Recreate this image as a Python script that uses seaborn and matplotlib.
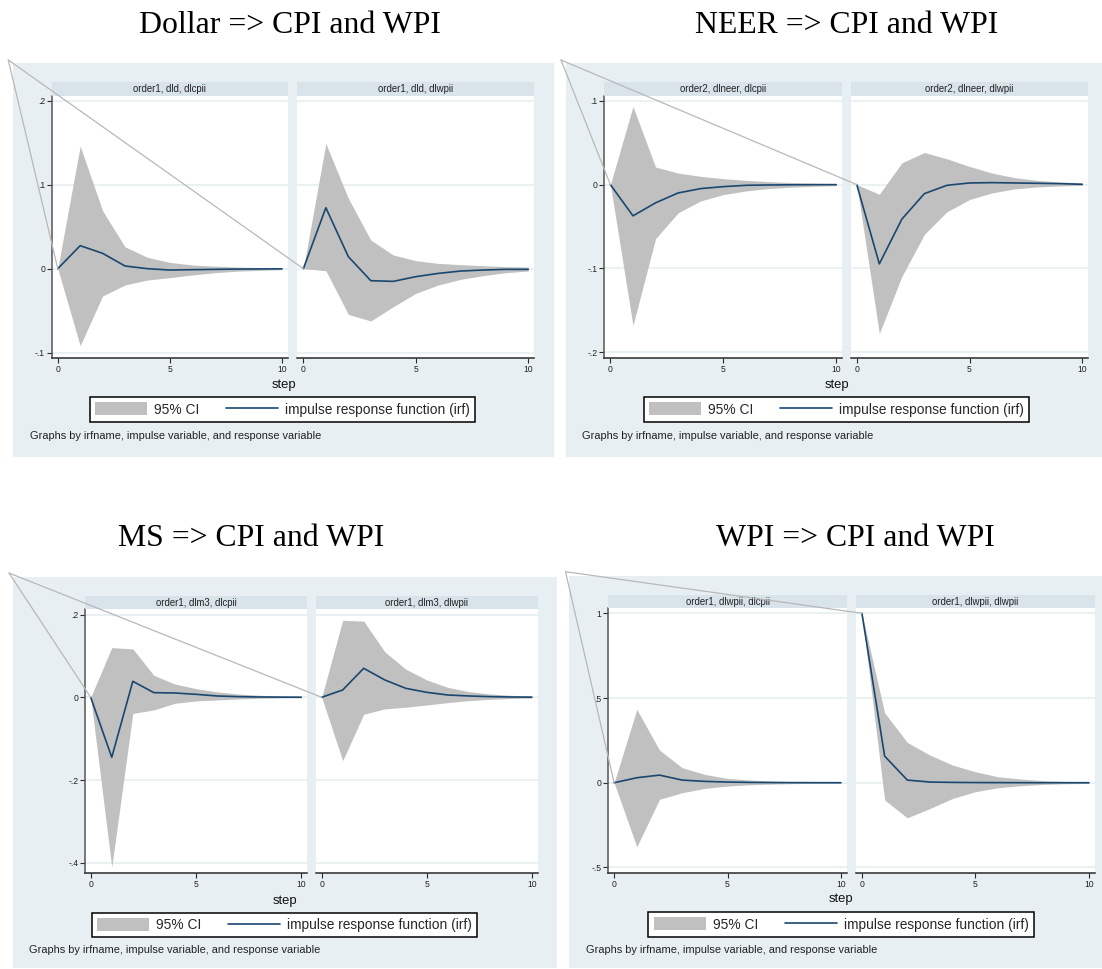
import matplotlib
matplotlib.use("Agg")
import matplotlib.pyplot as plt
from matplotlib.patches import Rectangle, Patch, ConnectionPatch
from matplotlib.lines import Line2D
from matplotlib.ticker import FuncFormatter
import seaborn as sns

# ---------------------------------------------------------------------------
# Impulse response estimates (step 0..10): irf, lower and upper 95% bounds
# ---------------------------------------------------------------------------
steps = list(range(11))

dollar_cpi_irf = [0, 0.0274, 0.0183, 0.0032, 0.0, -0.0016, -0.0012, -0.0008, -0.0005, -0.0003, -0.0002]
dollar_cpi_lo = [0, -0.0917, -0.0325, -0.0194, -0.0135, -0.0107, -0.0075, -0.0048, -0.003, -0.002, -0.0012]
dollar_cpi_hi = [0, 0.146, 0.069, 0.026, 0.0135, 0.0075, 0.0044, 0.003, 0.002, 0.0012, 0.0008]

dollar_wpi_irf = [0, 0.0726, 0.0143, -0.0143, -0.0151, -0.0095, -0.0056, -0.0028, -0.0016, -0.0008, -0.0008]
dollar_wpi_lo = [0, -0.0024, -0.0544, -0.0623, -0.0452, -0.0294, -0.0194, -0.0127, -0.0083, -0.0048, -0.0028]
dollar_wpi_hi = [0, 0.149, 0.0837, 0.034, 0.0163, 0.0095, 0.0063, 0.0048, 0.0035, 0.0025, 0.002]

neer_cpi_irf = [0, -0.0372, -0.0217, -0.0099, -0.0047, -0.0024, -0.0008, -0.0004, -0.0002, 0.0, 0.0]
neer_cpi_lo = [0, -0.168, -0.0644, -0.0336, -0.0194, -0.0119, -0.0075, -0.0047, -0.003, -0.002, -0.0012]
neer_cpi_hi = [0, 0.0933, 0.021, 0.0138, 0.0099, 0.0071, 0.0051, 0.0036, 0.0025, 0.0016, 0.001]

neer_wpi_irf = [0, -0.0945, -0.0411, -0.0107, -0.0008, 0.002, 0.0024, 0.002, 0.0016, 0.0012, 0.0004]
neer_wpi_lo = [0, -0.1775, -0.1095, -0.0593, -0.0324, -0.0178, -0.0099, -0.0051, -0.0028, -0.0016, -0.0008]
neer_wpi_hi = [0, -0.0115, 0.026, 0.0383, 0.0308, 0.0217, 0.0138, 0.0083, 0.0051, 0.0032, 0.002]

ms_cpi_irf = [0, -0.145, 0.0386, 0.0112, 0.0104, 0.0072, 0.0032, 0.0016, 0.0008, 0.0004, 0.0002]
ms_cpi_lo = [0, -0.41, -0.039, -0.0305, -0.0145, -0.0088, -0.0064, -0.004, -0.0025, -0.0015, -0.001]
ms_cpi_hi = [0, 0.12, 0.117, 0.053, 0.032, 0.021, 0.013, 0.008, 0.005, 0.003, 0.002]

ms_wpi_irf = [0, 0.0177, 0.07, 0.042, 0.0217, 0.012, 0.0056, 0.0032, 0.0016, 0.0008, 0.0004]
ms_wpi_lo = [0, -0.153, -0.041, -0.028, -0.024, -0.0185, -0.0128, -0.008, -0.0048, -0.003, -0.002]
ms_wpi_hi = [0, 0.186, 0.184, 0.11, 0.068, 0.042, 0.024, 0.0137, 0.008, 0.0048, 0.003]

wpi_cpi_irf = [0, 0.0295, 0.045, 0.0157, 0.008, 0.004, 0.002, 0.001, 0.0005, 0.0002, 0.0]
wpi_cpi_lo = [0, -0.378, -0.098, -0.059, -0.0335, -0.0197, -0.012, -0.0079, -0.005, -0.003, -0.002]
wpi_cpi_hi = [0, 0.433, 0.193, 0.0886, 0.049, 0.0256, 0.0157, 0.01, 0.006, 0.004, 0.002]

wpi_wpi_irf = [1.0, 0.157, 0.0157, 0.004, 0.002, 0.001, 0.0005, 0.0002, 0.0, 0.0, 0.0]
wpi_wpi_lo = [1.0, -0.102, -0.207, -0.152, -0.0925, -0.053, -0.0295, -0.0177, -0.01, -0.006, -0.004]
wpi_wpi_hi = [1.0, 0.413, 0.238, 0.163, 0.104, 0.065, 0.035, 0.022, 0.012, 0.008, 0.005]

titles = ["Dollar => CPI and WPI", "NEER => CPI and WPI", "MS => CPI and WPI", "WPI => CPI and WPI"]
strip_labels = [
    ["order1, dld, dlcpii", "order1, dld, dlwpii"],
    ["order2, dlneer, dlcpii", "order2, dlneer, dlwpii"],
    ["order1, dlm3, dlcpii", "order1, dlm3, dlwpii"],
    ["order1, dlwpii, dlcpii", "order1, dlwpii, dlwpii"],
]
series = [
    [(dollar_cpi_irf, dollar_cpi_lo, dollar_cpi_hi), (dollar_wpi_irf, dollar_wpi_lo, dollar_wpi_hi)],
    [(neer_cpi_irf, neer_cpi_lo, neer_cpi_hi), (neer_wpi_irf, neer_wpi_lo, neer_wpi_hi)],
    [(ms_cpi_irf, ms_cpi_lo, ms_cpi_hi), (ms_wpi_irf, ms_wpi_lo, ms_wpi_hi)],
    [(wpi_cpi_irf, wpi_cpi_lo, wpi_cpi_hi), (wpi_wpi_irf, wpi_wpi_lo, wpi_wpi_hi)],
]
y_ticks = [
    [-0.1, 0, 0.1, 0.2],
    [-0.2, -0.1, 0, 0.1],
    [-0.4, -0.2, 0, 0.2],
    [-0.5, 0, 0.5, 1],
]
x_ticks = [0, 5, 10]
x_label = "step"
legend_labels = ["95% CI", "impulse response function (irf)"]
note_text = "Graphs by irfname, impulse variable, and response variable"

# ---------------------------------------------------------------------------
# Layout (pixel positions on the 1102 x 969 canvas)
# ---------------------------------------------------------------------------
layout = [
    dict(bg=(12.7, 63, 554, 457), title=(290, 33.3), strip_y=82.3, plot_y=(96, 358.3),
         sub_x=[(51.7, 288), (297.3, 534.3)], ylim=(-0.1067, 0.2056),
         step=(283.5, 385), legend=(282.5, 409.5), note=(30, 435.7), anchor=(8.3, 60)),
    dict(bg=(565.7, 63, 1102, 457), title=(847, 33.3), strip_y=82.3, plot_y=(95.5, 358.3),
         sub_x=[(604.3, 842.3), (850.7, 1088.3)], ylim=(-0.2071, 0.1063),
         step=(836.5, 385), legend=(836.3, 409.5), note=(582, 435.7), anchor=(561, 60)),
    dict(bg=(13, 577.3, 556.7, 968), title=(251, 546), strip_y=596, plot_y=(609, 872.7),
         sub_x=[(85, 307), (316, 537.5)], ylim=(-0.4237, 0.2133),
         step=(284.6, 900.7), legend=(284.7, 925), note=(29.3, 950), anchor=(9, 573)),
    dict(bg=(569, 576, 1102, 968), title=(855.4, 546), strip_y=595, plot_y=(608.3, 872.7),
         sub_x=[(608, 847), (855.8, 1095)], ylim=(-0.531, 1.0295),
         step=(841, 899.3), legend=(841.2, 924.5), note=(585.7, 950), anchor=(565.5, 571.7)),
]
XLIM = (-0.27, 10.27)

GRAPH_BG = "#E8EFF2"
STRIP_BG = "#D8E3EA"
GRID = "#EAF1F3"
BAND = "#C0C0C0"
NAVY = "#1A476F"
CALLOUT = "#B8B8B8"
AXIS = "#2A2A2A"

sns.set_theme(style="white")
plt.rcParams["font.family"] = ["Liberation Sans", "DejaVu Sans"]

W, H = 1102, 969
fig = plt.figure(figsize=(W / 100, H / 100), dpi=100)
fig.patch.set_facecolor("white")


def fx(x):
    return x / W


def fy(y):
    return 1 - y / H


def stata_fmt(v, pos):
    s = f"{v:g}"
    if s.startswith("0."):
        s = s[1:]
    elif s.startswith("-0."):
        s = "-" + s[2:]
    return s


for p, lay in enumerate(layout):
    bx0, by0, bx1, by1 = lay["bg"]
    fig.add_artist(Rectangle((fx(bx0), fy(by1)), (bx1 - bx0) / W, (by1 - by0) / H,
                             transform=fig.transFigure, facecolor=GRAPH_BG,
                             edgecolor="none", zorder=-5))
    fig.text(fx(lay["title"][0]), fy(lay["title"][1]), titles[p], ha="center",
             va="baseline", fontsize=22.9, family=["Liberation Serif", "DejaVu Serif"],
             color="black")

    py0, py1 = lay["plot_y"]
    for i, (x0, x1) in enumerate(lay["sub_x"]):
        irf, lo, hi = series[p][i]
        ax = fig.add_axes([fx(x0), fy(py1), (x1 - x0) / W, (py1 - py0) / H])
        ax.set_facecolor("white")
        ax.fill_between(steps, lo, hi, color=BAND, lw=0, zorder=1)
        sns.lineplot(x=steps, y=irf, ax=ax, color=NAVY, lw=1.2, zorder=3)
        ax.set_xlim(*XLIM)
        ax.set_ylim(*lay["ylim"])
        ax.set_xticks(x_ticks)
        ax.set_yticks(y_ticks[p])
        ax.yaxis.set_major_formatter(FuncFormatter(stata_fmt))
        ax.xaxis.set_major_formatter(FuncFormatter(stata_fmt))
        ax.set_xlabel("")
        ax.set_ylabel("")
        ax.yaxis.grid(True, color=GRID, lw=1.4)
        ax.xaxis.grid(False)
        ax.set_axisbelow(True)
        for side in ("top", "right"):
            ax.spines[side].set_visible(False)
        ax.spines["bottom"].set_color(AXIS)
        ax.spines["bottom"].set_linewidth(1.1)
        ax.spines["left"].set_visible(i == 0)
        ax.spines["left"].set_color("#555555")
        ax.spines["left"].set_linewidth(1.1)
        ax.tick_params(axis="x", bottom=True, direction="out", length=3.6, width=0.8,
                       color=AXIS, labelsize=6.2, pad=1.5, labelcolor="#222222")
        ax.tick_params(axis="y", left=(i == 0), labelleft=(i == 0), direction="out",
                       length=3.6, width=0.8, color=AXIS, labelsize=6.2, pad=1.2,
                       labelcolor="#222222")

        # facet header strip
        sx = fig.add_axes([fx(x0), fy(py0), (x1 - x0) / W, (py0 - lay["strip_y"]) / H])
        sx.set_facecolor(STRIP_BG)
        sx.set_xticks([])
        sx.set_yticks([])
        for s in sx.spines.values():
            s.set_visible(False)
        sx.text(0.5, 0.5, strip_labels[p][i], ha="center", va="center",
                fontsize=6.9, color="#222222", transform=sx.transAxes)

        # callout line from the panel corner to the first response value
        con = ConnectionPatch(xyA=(fx(lay["anchor"][0]), fy(lay["anchor"][1])),
                              coordsA=fig.transFigure,
                              xyB=(steps[0], irf[0]), coordsB=ax.transData,
                              color=CALLOUT, lw=0.9, zorder=20)
        fig.add_artist(con)

    fig.text(fx(lay["step"][0]), fy(lay["step"][1]), x_label, ha="center", va="center",
             fontsize=9.4, color="#111111")

    handles = [Patch(facecolor=BAND, edgecolor="none"), Line2D([], [], color=NAVY, lw=1.2)]
    leg = fig.legend(handles, legend_labels, loc="center",
                     bbox_to_anchor=(fx(lay["legend"][0]), fy(lay["legend"][1])),
                     bbox_transform=fig.transFigure, ncol=2, fontsize=9.86,
                     frameon=True, fancybox=False, framealpha=1, edgecolor="black",
                     handlelength=3.8, handleheight=1.05, handletextpad=0.5,
                     columnspacing=1.95, borderpad=0.4, borderaxespad=0)
    leg.get_frame().set_linewidth(1.1)
    leg.get_frame().set_facecolor("white")

    fig.text(fx(lay["note"][0]), fy(lay["note"][1]), note_text, ha="left", va="center",
             fontsize=7.9, color="#222222")

fig.savefig("out.png", dpi=100, facecolor="white")
